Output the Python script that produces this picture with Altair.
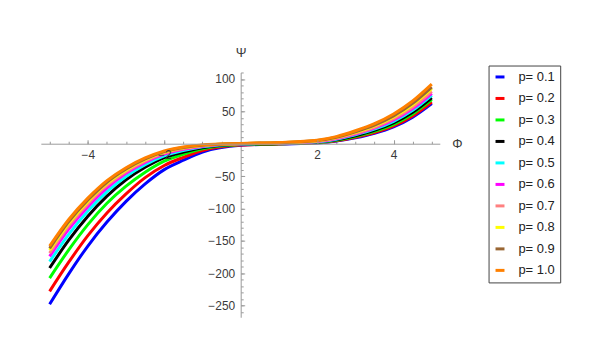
import altair as alt
import pandas as pd

phi = [-5, -4.5, -4, -3.5, -3, -2.5, -2, -1.5, -1, 0, 1, 2, 2.5, 3, 3.5, 4, 4.5, 5]

labels = ["p= 0.1", "p= 0.2", "p= 0.3", "p= 0.4", "p= 0.5",
          "p= 0.6", "p= 0.7", "p= 0.8", "p= 0.9", "p= 1.0"]
colors = ["#0000FF", "#FF0000", "#00FF00", "#000000", "#00FFFF",
          "#FF00FF", "#FF8080", "#FFFF00", "#996633", "#FF8000"]

p01 = [-248, -201, -158, -121, -89, -62, -40, -25.5, -13, -2.5, -0.5, 1, 4, 9, 16, 26, 41, 62]
p02 = [-228, -183, -142, -107, -77.6, -52.4, -33.6, -21, -10.5, -2, -0.3, 1.4, 4.6, 9.9, 17.2, 27.6, 43, 64.4]
p03 = [-207.5, -164, -125, -92, -65.6, -44, -27, -16.3, -8, -1.3, 0, 1.9, 5.4, 11.2, 19, 30, 46, 68]
p04 = [-192, -149, -112, -81, -55.7, -36.4, -21.4, -12.8, -6.1, -0.8, 0.3, 2.4, 6.1, 12.3, 20.5, 32, 48.5, 71]
p05 = [-182, -140, -104, -74, -50.5, -32.4, -18.8, -10.5, -4.8, -0.4, 0.6, 2.9, 7, 13.7, 22.4, 34.6, 51.7, 74.9]
p06 = [-174, -132, -97.3, -68.3, -45.8, -28.8, -16.2, -8.7, -3.8, -0.1, 0.8, 3.4, 7.7, 14.8, 24, 36.6, 54.2, 77.9]
p07 = [-169, -127, -92.9, -64.5, -43.2, -26.8, -14.5, -7.5, -3.1, 0.1, 1.1, 3.8, 8.4, 15.9, 25.4, 38.6, 56.7, 80.9]
p08 = [-164.3, -123, -89.2, -61.4, -40.6, -24.8, -13, -6.4, -2.6, 0.3, 1.4, 4.5, 9.4, 17.5, 27.5, 41.4, 60.2, 85.1]
p09 = [-161.6, -120.4, -87, -59.5, -39.1, -23.6, -12.2, -5.8, -2.25, 0.4, 1.6, 4.8, 10, 18.4, 28.8, 43, 62.3, 87.5]
p10 = [-158, -117, -84, -57, -37, -22, -11, -5, -1.8, 0.5, 2, 5.5, 11, 20, 31, 46, 66, 92]

series = [p01, p02, p03, p04, p05, p06, p07, p08, p09, p10]

x_major = [-4, -2, 2, 4]
x_minor = [v / 2 for v in range(-10, 11)]
y_major = [-250, -200, -150, -100, -50, 50, 100]
y_minor = list(range(-260, 111, 10))

rows = []
for k, (lab, vals) in enumerate(zip(labels, series)):
    for ph, ps in zip(phi, vals):
        rows.append({"phi": ph, "psi": ps, "series": lab, "k": k})
df = pd.DataFrame(rows)

W, H = 401, 246
XD = [-5.23, 5.21]
YD = [-268, 110]
x0 = (0 - XD[0]) / (XD[1] - XD[0]) * W
y0 = (YD[1] - 0) / (YD[1] - YD[0]) * H

AX = "#9a9a9a"
LAB = "#3a3a3a"
FONT = "Liberation Sans"
minus = "replace(datum.label, '-', '\u2212')"

xs = alt.Scale(domain=XD, nice=False, zero=False)
ys = alt.Scale(domain=YD, nice=False, zero=False)

x_axis = alt.Axis(orient="top", offset=-y0, values=x_major, tickSize=4,
                  tickColor=AX, domainColor=AX, labelColor=LAB, labelFont=FONT,
                  labelFontSize=12, labelBaseline="top", labelPadding=-10,
                  labelExpr=minus, labelFlush=False, grid=False, zindex=1,
                  title="\u03a6", titleX=W + 12, titleY=0, titleAngle=0,
                  titleBaseline="middle", titleAlign="left", titleFont=FONT,
                  titleFontSize=13, titleFontWeight="normal", titleColor=LAB)
y_axis = alt.Axis(orient="right", offset=-(W - x0), values=y_major, tickSize=4,
                  tickColor=AX, domainColor=AX, labelColor=LAB, labelFont=FONT,
                  labelFontSize=12, labelAlign="right", labelBaseline="middle",
                  labelPadding=-10, labelExpr=minus, labelFlush=False, grid=False,
                  title="\u03a8", titleX=0, titleY=-20, titleAngle=0,
                  titleBaseline="middle", titleAlign="center", titleFont=FONT,
                  titleFontSize=13, titleFontWeight="normal", titleColor=LAB)

x_axis_minor = alt.Axis(orient="top", offset=-y0, values=x_minor, tickSize=2.5,
                        tickColor=AX, domain=False, labels=False, grid=False, title=None)
y_axis_minor = alt.Axis(orient="right", offset=-(W - x0), values=y_minor, tickSize=2.5,
                        tickColor=AX, domain=False, labels=False, grid=False, title=None)

legend = alt.Legend(orient="none", legendX=450, legendY=-7, title=None,
                    symbolType="stroke", symbolSize=81, symbolStrokeWidth=3,
                    labelFontSize=13, labelFont=FONT, labelColor="#222222",
                    rowPadding=7.6, padding=5, strokeColor="#444444",
                    fillColor="white", labelOffset=12,
                    labelExpr="datum.label + '\u00a0\u00a0\u00a0\u00a0'")

lines = alt.Chart(df).mark_line(strokeWidth=3, interpolate="monotone").encode(
    x=alt.X("phi:Q", scale=xs, axis=x_axis),
    y=alt.Y("psi:Q", scale=ys, axis=y_axis),
    color=alt.Color("series:N", scale=alt.Scale(domain=labels, range=colors), legend=legend),
    order="phi:Q",
)

minor = alt.Chart(df).mark_line(opacity=0).encode(
    x=alt.X("phi:Q", scale=xs, axis=x_axis_minor),
    y=alt.Y("psi:Q", scale=ys, axis=y_axis_minor),
    detail="series:N",
)

chart = alt.layer(minor, lines).resolve_axis(x="independent", y="independent").properties(
    width=W, height=H,
    padding={"left": 33, "top": 64, "right": 160, "bottom": 10},
    autosize=alt.AutoSizeParams(type="none"),
    background="white",
).configure_view(stroke=None)

chart.save("out.html", embed_options={"renderer": "svg", "actions": False})
